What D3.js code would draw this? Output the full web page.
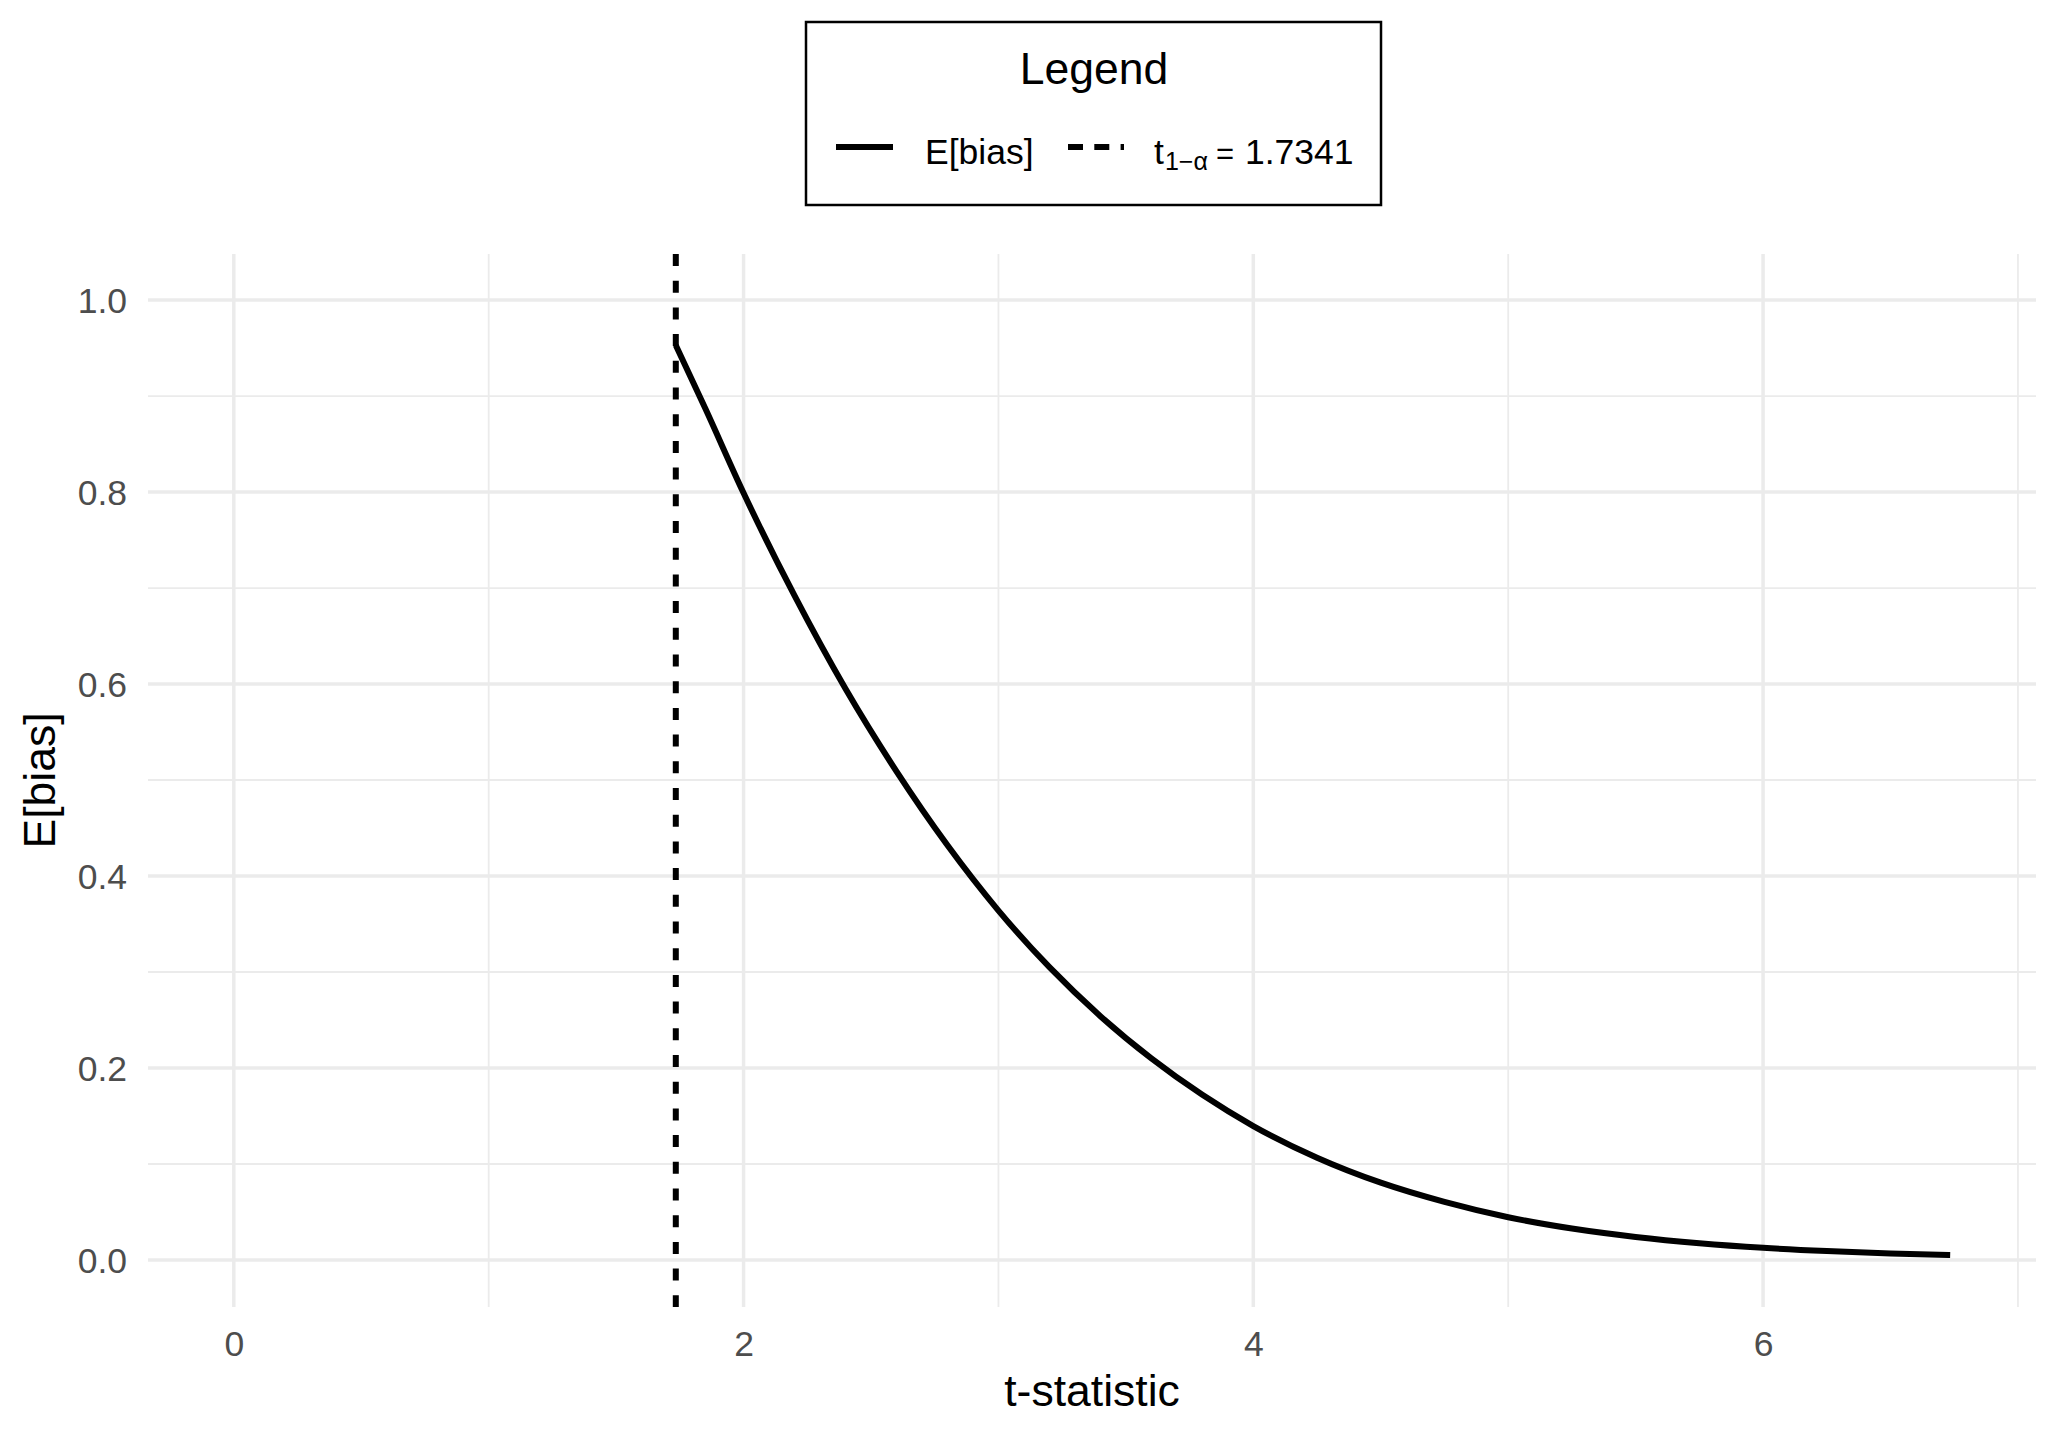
<!DOCTYPE html>
<html>
<head>
<meta charset="utf-8">
<script src="https://cdn.jsdelivr.net/npm/d3@7"></script>
<style>
  html, body { margin: 0; padding: 0; background: #ffffff; }
  svg { display: block; }
  text { font-family: "Liberation Sans", Arial, Helvetica, sans-serif; }
</style>
</head>
<body>
<script>
// ---- data ----
const tValues = [1.7341, 1.85, 2.0, 2.2, 2.4, 2.6, 2.8, 3.0, 3.2, 3.4, 3.6, 3.8, 4.0,
                 4.25, 4.5, 4.75, 5.0, 5.25, 5.5, 5.75, 6.0, 6.25, 6.5, 6.7341];
const biasValues = [0.953, 0.887, 0.799, 0.692, 0.595, 0.509, 0.432, 0.364, 0.305, 0.254, 0.210, 0.172, 0.1395,
                    0.1065, 0.0805, 0.0605, 0.0445, 0.0327, 0.0240, 0.0175, 0.0127, 0.0093, 0.0068, 0.0051];
const tCrit = 1.7341;
const xTicks = [0, 2, 4, 6];
const xMinorTicks = [1, 3, 5, 7];
const yTicks = [0.0, 0.2, 0.4, 0.6, 0.8, 1.0];
const yMinorTicks = [0.1, 0.3, 0.5, 0.7, 0.9];
const xTitle = "t-statistic";
const yTitle = "E[bias]";
const legendTitle = "Legend";
const legendLabelA = "E[bias]";

const W = 2060, H = 1440;
const panel = { left: 148, right: 2036, top: 254, bottom: 1307 };

const svg = d3.select("body").append("svg").attr("width", W).attr("height", H);

const x = d3.scaleLinear().domain([-0.3367, 7.0708]).range([panel.left, panel.right]);
const y = d3.scaleLinear().domain([-0.049, 1.048]).range([panel.bottom, panel.top]);

const grid = svg.append("g");
// minor grid
grid.selectAll("line.xmin").data(xMinorTicks).enter().append("line")
  .attr("x1", d => x(d)).attr("x2", d => x(d))
  .attr("y1", panel.top).attr("y2", panel.bottom)
  .attr("stroke", "#ebebeb").attr("stroke-width", 1.8);
grid.selectAll("line.ymin").data(yMinorTicks).enter().append("line")
  .attr("y1", d => y(d)).attr("y2", d => y(d))
  .attr("x1", panel.left).attr("x2", panel.right)
  .attr("stroke", "#ebebeb").attr("stroke-width", 1.8);
// major grid
grid.selectAll("line.xmaj").data(xTicks).enter().append("line")
  .attr("x1", d => x(d)).attr("x2", d => x(d))
  .attr("y1", panel.top).attr("y2", panel.bottom)
  .attr("stroke", "#ebebeb").attr("stroke-width", 3.5);
grid.selectAll("line.ymaj").data(yTicks).enter().append("line")
  .attr("y1", d => y(d)).attr("y2", d => y(d))
  .attr("x1", panel.left).attr("x2", panel.right)
  .attr("stroke", "#ebebeb").attr("stroke-width", 3.5);

// axes (text only, like theme_minimal)
const xAxis = d3.axisBottom(x).tickValues(xTicks).tickSize(0).tickFormat(d3.format("d"));
const gx = svg.append("g").attr("transform", `translate(0,${panel.bottom})`).call(xAxis);
gx.select(".domain").remove();
gx.selectAll("text").attr("fill", "#4d4d4d").attr("font-size", 35.5)
  .attr("font-family", "Liberation Sans, Arial, sans-serif")
  .attr("dy", null).attr("y", 49);

const yAxis = d3.axisLeft(y).tickValues(yTicks).tickSize(0).tickFormat(d3.format(".1f"));
const gy = svg.append("g").attr("transform", `translate(${panel.left},0)`).call(yAxis);
gy.select(".domain").remove();
gy.selectAll("text").attr("fill", "#4d4d4d").attr("font-size", 35.5)
  .attr("font-family", "Liberation Sans, Arial, sans-serif")
  .attr("x", -21).attr("dy", "0.35em");

// curve
const line = d3.line().x(d => x(d[0])).y(d => y(d[1])).curve(d3.curveMonotoneX);
svg.append("path")
  .datum(tValues.map((t, i) => [t, biasValues[i]]))
  .attr("d", line)
  .attr("fill", "none").attr("stroke", "#000").attr("stroke-width", 6)
  .attr("stroke-linejoin", "round");

// dashed critical line
svg.append("line")
  .attr("x1", x(tCrit)).attr("x2", x(tCrit))
  .attr("y1", panel.top).attr("y2", panel.bottom)
  .attr("stroke", "#000").attr("stroke-width", 6)
  .attr("stroke-dasharray", "12,14.7");

// axis titles
svg.append("text").attr("x", (panel.left + panel.right) / 2).attr("y", 1406)
  .attr("text-anchor", "middle").attr("font-size", 44.5).attr("fill", "#000").text(xTitle);
svg.append("text")
  .attr("transform", `translate(55,${(panel.top + panel.bottom) / 2}) rotate(-90)`)
  .attr("text-anchor", "middle").attr("font-size", 44.5).attr("fill", "#000").text(yTitle);

// legend
const lg = svg.append("g");
lg.append("rect").attr("x", 806).attr("y", 22).attr("width", 575).attr("height", 183)
  .attr("fill", "#fff").attr("stroke", "#000").attr("stroke-width", 2.5);
lg.append("text").attr("x", 1094).attr("y", 84).attr("text-anchor", "middle")
  .attr("font-size", 44.5).attr("fill", "#000").text(legendTitle);
lg.append("line").attr("x1", 836).attr("x2", 893).attr("y1", 147).attr("y2", 147)
  .attr("stroke", "#000").attr("stroke-width", 6);
lg.append("text").attr("x", 925).attr("y", 164).attr("font-size", 35.5).attr("fill", "#000").text(legendLabelA);
lg.append("line").attr("x1", 1068).attr("x2", 1124).attr("y1", 147).attr("y2", 147)
  .attr("stroke", "#000").attr("stroke-width", 6).attr("stroke-dasharray", "15,11.3");
const lt = lg.append("text").attr("x", 1154).attr("y", 164).attr("font-size", 35.5).attr("fill", "#000");
lt.append("tspan").text("t");
lt.append("tspan").attr("font-size", 25).attr("dy", 6).attr("dx", 1).text("1\u2212\u03b1");
lt.append("tspan").attr("font-size", 31).attr("dy", -6).attr("x", 1216).text("=");
lt.append("tspan").attr("x", 1245).text("1.7341");
</script>
</body>
</html>
